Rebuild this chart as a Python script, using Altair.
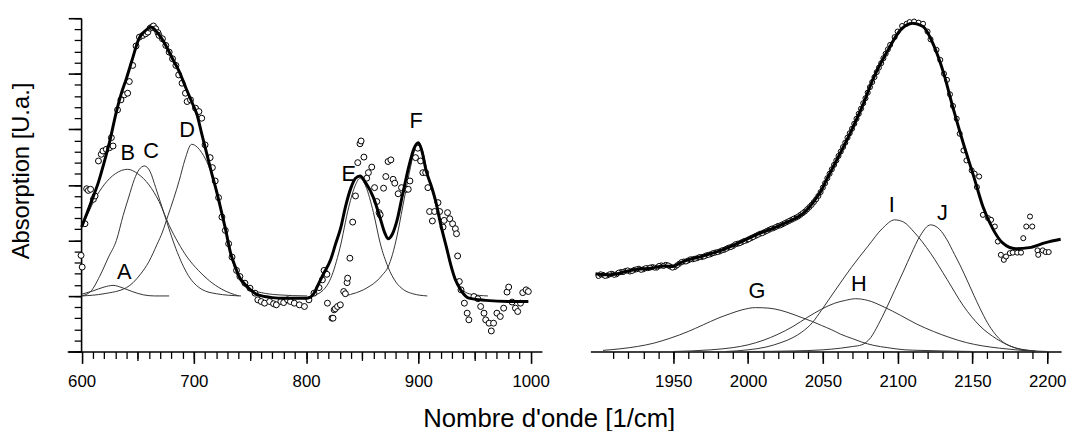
import altair as alt
import pandas as pd

FONT = "Liberation Sans"

# ---------------- Left panel (600-1000 1/cm) ----------------
fit_left_x = [600, 605, 610, 615, 620, 625, 631, 635, 640, 645, 651, 656, 662, 668, 675, 681, 687, 693, 698, 703,
              707, 712, 716, 720, 725, 728, 733, 737, 740, 745, 750, 755, 763, 770, 780, 790, 801, 806, 810, 815,
              822, 826, 831, 835, 840, 844, 848, 853, 860, 866, 870, 873, 877, 881, 886, 892, 896, 900, 903, 907,
              912, 916, 920, 925, 929, 933, 938, 945, 960, 980, 998]
fit_left_y = [1.24, 1.50, 1.77, 2.05, 2.40, 2.78, 3.32, 3.62, 3.92, 4.25, 4.63, 4.76, 4.84, 4.73, 4.51, 4.27, 4.04, 3.74, 3.50, 3.25,
              2.92, 2.52, 2.20, 1.90, 1.48, 1.22, 0.75, 0.52, 0.36, 0.22, 0.12, 0.04, -0.01, -0.03, -0.04, -0.04, -0.04, 0.02, 0.17, 0.38,
              0.66, 0.92, 1.24, 1.60, 1.95, 2.12, 2.16, 2.04, 1.77, 1.40, 1.14, 1.03, 1.12, 1.36, 1.83, 2.37, 2.65, 2.76, 2.62, 2.25,
              1.95, 1.66, 1.28, 0.88, 0.55, 0.29, 0.10, -0.04, -0.08, -0.10, -0.10]

comp_A = [(600, 0.03), (610, 0.09), (620, 0.16), (628, 0.19), (636, 0.15), (645, 0.08), (655, 0.02), (665, 0.0), (678, 0.0)]
comp_B = [(600, 1.25), (606, 1.50), (612, 1.75), (620, 2.00), (630, 2.20), (641, 2.28), (650, 2.20), (660, 2.00),
          (669, 1.70), (678, 1.27), (686, 0.96), (694, 0.70), (704, 0.46), (714, 0.27), (725, 0.12), (740, 0.0)]
comp_C = [(600, 0.0), (608, 0.08), (616, 0.35), (624, 0.70), (631, 1.0), (637, 1.45), (642, 1.78), (647, 2.10), (651, 2.27),
          (656, 2.34), (661, 2.24), (666, 1.95), (674, 1.45), (684, 0.85), (695, 0.37), (707, 0.12), (720, 0.04), (742, 0.0)]
comp_D = [(600, 0.0), (620, 0.04), (640, 0.15), (652, 0.38), (660, 0.62), (667, 0.92), (672, 1.15), (677, 1.45), (682, 1.75),
          (687, 2.08), (692, 2.45), (698, 2.73), (703, 2.68), (707, 2.58), (713, 2.35), (719, 2.00), (724, 1.60), (728, 1.20),
          (732, 0.82), (736, 0.52), (740, 0.32), (745, 0.18), (751, 0.11), (760, 0.06), (775, 0.02), (801, 0.0)]
comp_E = [(805, 0.0), (815, 0.10), (822, 0.32), (830, 0.85), (838, 1.60), (844, 2.00), (848, 2.12), (853, 1.98), (860, 1.50),
          (866, 0.95), (873, 0.52), (880, 0.25), (887, 0.11), (895, 0.04), (908, 0.0)]
comp_F = [(834, 0.0), (845, 0.06), (851, 0.11), (857, 0.18), (863, 0.27), (868, 0.38), (873, 0.52), (877, 0.75), (881, 1.08),
          (886, 1.60), (892, 2.22), (896, 2.58), (900, 2.76), (904, 2.60), (908, 2.22), (913, 1.85), (917, 1.52), (921, 1.18),
          (925, 0.85), (929, 0.55), (934, 0.28), (940, 0.10), (947, 0.03), (962, 0.0)]

pts_left = [(599.5, 0.73), (600.5, 0.52), (603, 1.30), (604.5, 1.93), (606, 1.90), (608, 1.92), (610.5, 1.74), (612, 1.80),
            (615, 2.43), (617.5, 2.55), (619, 2.61), (622, 2.64), (625, 2.67), (626.5, 2.85), (628, 2.70),
            (632, 3.35), (635, 3.53), (638, 3.62), (641, 3.65), (642.5, 3.86), (645.5, 4.15), (648.5, 4.50), (651.5, 4.66),
            (654.5, 4.69), (657, 4.72), (659, 4.75), (661, 4.82), (662.5, 4.84), (664, 4.86), (666, 4.81), (668, 4.74),
            (669, 4.69), (672, 4.63), (675, 4.51), (678, 4.39), (681, 4.27), (684, 4.15), (686.5, 3.98), (689.5, 3.83),
            (692.5, 3.65), (694, 3.50), (697, 3.53), (701.5, 3.38), (704.5, 3.32), (707, 3.20), (710, 2.72), (714.5, 2.49),
            (716.5, 2.31), (719, 2.07), (722, 1.77), (725, 1.42), (728, 1.18), (731, 0.94), (734, 0.70), (738, 0.46),
            (741, 0.35), (745.5, 0.23), (750, 0.14), (754.5, 0.05),
            (757, -0.07), (760, -0.10), (763, -0.13), (767.5, -0.10), (771, -0.14), (773.5, -0.16), (777.5, -0.10),
            (780, -0.12), (783.5, -0.07), (786, -0.10), (789.5, -0.13), (794, -0.16), (798.5, -0.19), (802.5, -0.07),
            (807, 0.05), (811.5, 0.15), (814.5, 0.29), (816, 0.46), (818.5, 0.39),
            (819, -0.13), (823, -0.40), (824, -0.40), (825, -0.25), (826, -0.23), (828, -0.19), (830.5, -0.16),
            (833.5, 0.08), (835, 0.04), (836.5, 0.24), (837, 0.32), (839, 0.68), (841.5, 1.33), (844, 1.80), (846, 2.40),
            (848, 2.74), (849, 2.79), (851.5, 2.50), (854, 2.12), (855.5, 2.22), (858.5, 2.32), (861, 1.95), (863, 1.70),
            (865, 1.50), (866, 1.46), (869, 1.94), (871, 2.15), (873, 2.42), (875.5, 2.45), (877.5, 2.10), (879, 2.03),
            (882, 1.84), (885, 1.95), (889, 1.92), (891, 1.92), (892.5, 2.07), (897.5, 2.49), (899.5, 2.66), (902, 2.43),
            (904, 2.22), (906.5, 2.22), (908.5, 1.95), (910, 1.52), (912.5, 1.35), (914.5, 1.52), (917.5, 1.68),
            (919, 1.52), (922, 1.24), (923, 1.36), (926, 1.50), (928, 1.39), (930.5, 1.30), (933, 1.21), (934, 1.12),
            (935, 0.72), (936.5, 0.26), (938, 0.11), (941, -0.13), (943.5, -0.31), (945, -0.43), (949.5, -0.01),
            (953, -0.05), (955.5, -0.19), (958.5, -0.31), (960, -0.43), (963, -0.49), (965, -0.63), (967, -0.49),
            (970, -0.31), (973, -0.37), (976, -0.22), (979, 0.07), (980.5, 0.16), (983.5, -0.11), (986.5, -0.22),
            (988.5, -0.28), (991, -0.13), (993, 0.06), (996, 0.11), (998, 0.08)]

labels_left = ["A", "B", "C", "D", "E", "F"]
labels_left_x = [638, 641, 662, 694, 838, 898]
labels_left_y = [0.43, 2.58, 2.61, 2.99, 2.19, 3.14]

# ---------------- Right panel (1900-2200 1/cm) ----------------
fit_right_x = [1898, 1905, 1911, 1918, 1926, 1935, 1944, 1950, 1955, 1960, 1970, 1981, 1990, 1995, 2008, 2017, 2026, 2037,
               2045, 2049, 2053, 2058, 2067, 2076, 2084, 2093, 2102, 2110, 2117, 2124, 2131, 2137, 2144, 2151, 2157, 2164,
               2170, 2179, 2188, 2199, 2209]
fit_right_y = [1.40, 1.38, 1.39, 1.44, 1.48, 1.50, 1.54, 1.53, 1.60, 1.65, 1.72, 1.81, 1.91, 1.97, 2.13, 2.22, 2.33, 2.49,
               2.74, 2.90, 3.12, 3.38, 3.86, 4.39, 4.93, 5.40, 5.79, 5.91, 5.85, 5.52, 4.99, 4.39, 3.74, 3.14, 2.61, 2.19,
               1.96, 1.85, 1.87, 1.96, 2.02]

comp_G = [(1903, 0.02), (1915, 0.05), (1926, 0.09), (1937, 0.15), (1948, 0.24), (1960, 0.36), (1970, 0.48), (1980, 0.60),
          (1988, 0.68), (1996, 0.75), (2005, 0.79), (2014, 0.78), (2022, 0.74), (2030, 0.67), (2036, 0.61), (2043, 0.54),
          (2049, 0.47), (2056, 0.39), (2062, 0.31), (2070, 0.23), (2076, 0.17), (2084, 0.11), (2093, 0.07), (2105, 0.03),
          (2115, 0.02), (2130, 0.01), (2150, 0.0)]
comp_H = [(1950, 0.0), (1975, 0.03), (1990, 0.07), (2000, 0.12), (2010, 0.20), (2020, 0.31), (2030, 0.45), (2040, 0.62),
          (2049, 0.76), (2058, 0.87), (2065, 0.92), (2072, 0.95), (2080, 0.92), (2091, 0.80), (2102, 0.65), (2113, 0.49),
          (2124, 0.36), (2135, 0.25), (2146, 0.16), (2157, 0.10), (2168, 0.06), (2179, 0.03), (2192, 0.0)]
comp_I = [(1985, 0.0), (2000, 0.03), (2012, 0.08), (2022, 0.16), (2030, 0.25), (2036, 0.35), (2043, 0.52), (2049, 0.74),
          (2058, 1.09), (2069, 1.51), (2080, 1.89), (2090, 2.22), (2098, 2.37), (2104, 2.33), (2111, 2.15), (2122, 1.77),
          (2133, 1.30), (2144, 0.82), (2155, 0.46), (2166, 0.23), (2177, 0.08), (2188, 0.02), (2200, 0.0)]
comp_J = [(2000, 0.0), (2030, 0.01), (2050, 0.03), (2062, 0.06), (2070, 0.09), (2076, 0.12), (2082, 0.25), (2087, 0.48),
          (2092, 0.75), (2098, 1.10), (2104, 1.45), (2109, 1.75), (2115, 2.08), (2122, 2.28), (2128, 2.20), (2133, 2.01),
          (2138, 1.75), (2142, 1.54), (2147, 1.25), (2151, 1.01), (2155, 0.78), (2160, 0.52), (2165, 0.32), (2170, 0.18),
          (2176, 0.09), (2182, 0.04), (2192, 0.01)]

pts_right = [(1900, 1.36), (1903, 1.38), (1906, 1.37), (1909, 1.40), (1912, 1.39), (1915, 1.43), (1918, 1.45), (1921, 1.44),
             (1924, 1.47), (1927, 1.49), (1930, 1.48), (1933, 1.50), (1936, 1.52), (1939, 1.51), (1942, 1.55), (1945, 1.56),
             (1948, 1.53), (1951, 1.52), (1954, 1.58), (1957, 1.62), (1960, 1.64), (1963, 1.66), (1966, 1.68), (1969, 1.70),
             (1972, 1.73), (1975, 1.75), (1978, 1.78), (1981, 1.80), (1984, 1.83), (1987, 1.87), (1990, 1.90), (1993, 1.94),
             (1996, 1.97), (1999, 2.00), (2002, 2.04), (2005, 2.08), (2008, 2.12), (2011, 2.15), (2014, 2.19), (2017, 2.22),
             (2020, 2.26), (2023, 2.29), (2026, 2.33), (2029, 2.37), (2032, 2.41), (2035, 2.46), (2038, 2.52), (2041, 2.60),
             (2044, 2.69), (2047, 2.80), (2050, 2.95), (2053, 3.12), (2056, 3.28), (2059, 3.44), (2062, 3.60), (2065, 3.76),
             (2068, 3.93), (2071, 4.10), (2074, 4.28), (2077, 4.47), (2080, 4.66), (2083, 4.85), (2086, 5.03), (2089, 5.19),
             (2092, 5.36), (2095, 5.52), (2098, 5.66), (2100, 5.76), (2103, 5.86), (2106, 5.90), (2108, 5.93), (2111, 5.94),
             (2114, 5.92), (2117, 5.90), (2120, 5.76), (2122, 5.62), (2126, 5.43), (2128.5, 5.25), (2131, 5.00), (2133, 4.89),
             (2135, 4.63), (2137, 4.42), (2139.5, 4.19), (2141.5, 3.92), (2144, 3.62), (2146, 3.44), (2149.5, 3.26),
             (2151.5, 3.20), (2153, 2.96), (2154.5, 3.15), (2157, 2.46), (2160.5, 2.40), (2162.5, 2.37), (2165, 2.25),
             (2167, 1.98), (2169, 1.74), (2171, 1.65), (2172.5, 1.71), (2175, 1.77), (2177, 1.78), (2180, 1.78),
             (2182.5, 1.78), (2184, 2.04), (2186, 2.25), (2188.5, 2.43), (2190, 2.25), (2193.5, 1.82), (2194, 1.74),
             (2197, 1.82), (2199, 1.79), (2201, 1.79)]
# the dense band of measured points between 1900 and 2094
pts_right_dense = [(1901.5, 1.39), (1904.5, 1.36), (1907.5, 1.39), (1910.5, 1.38), (1913.5, 1.42), (1916.5, 1.43),
                   (1919.5, 1.46), (1922.5, 1.45), (1925.5, 1.48), (1928.5, 1.47), (1931.5, 1.50), (1934.5, 1.51),
                   (1937.5, 1.51), (1940.5, 1.54), (1943.5, 1.54), (1946.5, 1.55), (1949.5, 1.51), (1952.5, 1.55),
                   (1955.5, 1.61), (1958.5, 1.62), (1961.5, 1.66), (1964.5, 1.67), (1967.5, 1.70), (1970.5, 1.71),
                   (1973.5, 1.74), (1976.5, 1.77), (1979.5, 1.79), (1982.5, 1.82), (1985.5, 1.85), (1988.5, 1.88),
                   (1991.5, 1.93), (1994.5, 1.95), (1997.5, 1.99), (2000.5, 2.02), (2003.5, 2.06), (2006.5, 2.10),
                   (2009.5, 2.13), (2012.5, 2.17), (2015.5, 2.21), (2018.5, 2.24), (2021.5, 2.27), (2024.5, 2.31),
                   (2027.5, 2.35), (2030.5, 2.39), (2033.5, 2.43), (2036.5, 2.49), (2039.5, 2.56), (2042.5, 2.64),
                   (2045.5, 2.74), (2048.5, 2.87), (2051.5, 3.03), (2054.5, 3.20), (2057.5, 3.36), (2060.5, 3.52),
                   (2063.5, 3.68), (2066.5, 3.85), (2069.5, 4.01), (2072.5, 4.19), (2075.5, 4.37), (2078.5, 4.56),
                   (2081.5, 4.76), (2084.5, 4.94), (2087.5, 5.11), (2090.5, 5.28), (2093.5, 5.44)]

labels_right = ["G", "H", "I", "J"]
labels_right_x = [2006, 2074, 2096, 2130]
labels_right_y = [1.09, 1.21, 2.64, 2.49]

# tick positions / labels
x_left_labels = [600, 700, 800, 900, 1000]
x_left_mid = [650, 750, 850, 950]
x_left_minor = list(range(610, 1000, 10))
x_right_labels = [1950, 2000, 2050, 2100, 2150, 2200]
x_right_minor = list(range(1910, 2201, 10))
y_major = [-1, 0, 1, 2, 3, 4, 5]
y_minor = [round(-1 + 0.2 * i, 1) for i in range(31)]


def comps_frame(named):
    rows = []
    for name, pts in named.items():
        for i, (x, y) in enumerate(pts):
            rows.append({"x": x, "y": y, "comp": name, "o": i})
    return pd.DataFrame(rows)


df_fit_left = pd.DataFrame({"x": fit_left_x, "y": fit_left_y})
df_fit_right = pd.DataFrame({"x": fit_right_x, "y": fit_right_y})
df_comp_left = comps_frame({"A": comp_A, "B": comp_B, "C": comp_C, "D": comp_D, "E": comp_E, "F": comp_F})
df_comp_right = comps_frame({"G": comp_G, "H": comp_H, "I": comp_I, "J": comp_J})
df_pts_left = pd.DataFrame(pts_left, columns=["x", "y"])
df_pts_right = pd.DataFrame(pts_right + pts_right_dense, columns=["x", "y"])
df_lab_left = pd.DataFrame({"t": labels_left, "x": labels_left_x, "y": labels_left_y})
df_lab_right = pd.DataFrame({"t": labels_right, "x": labels_right_x, "y": labels_right_y})

xs_left = alt.Scale(domain=[587.2, 1010.1], nice=False, zero=False)
xs_right = alt.Scale(domain=[1894.6, 2209.3], nice=False, zero=False)
ys_left = alt.Scale(domain=[-1, 5], nice=False, zero=False)
ys_right = alt.Scale(domain=[0, 6], nice=False, zero=False)

tick_common = dict(grid=False, title=None, tickColor="black", orient="bottom")


def x_label_axis(values):
    return alt.Axis(values=values, tickSize=12, tickWidth=1.6, labelFontSize=17, labelFont=FONT,
                    labelColor="black", labelPadding=10, format="d", domainColor="black", domainWidth=1.6,
                    labelFlush=False, labelOverlap=False, **tick_common)


def x_tick_axis(values, size):
    return alt.Axis(values=values, tickSize=size, tickWidth=1.3, labels=False, domain=False, **tick_common)


y_axis_major = alt.Axis(values=y_major, tickSize=13, tickWidth=1.6, labels=False, domainColor="black",
                        domainWidth=1.6, tickColor="black", grid=False, offset=-14, orient="left",
                        title="Absorption [U.a.]", titleFont=FONT, titleFontSize=24, titleFontWeight="normal",
                        titleColor="black", titlePadding=34, titleY=154)
y_axis_minor = alt.Axis(values=y_minor, tickSize=7, tickWidth=1.3, labels=False, domain=False, tickColor="black",
                        grid=False, offset=-14, orient="left", title=None)

comp_style = dict(color="#333333", strokeWidth=1, interpolate="monotone")
fit_style = dict(color="black", strokeWidth=3, interpolate="monotone")
pt_left_style = dict(shape="circle", filled=True, fill="white", stroke="black", strokeWidth=1, size=36, opacity=1)
pt_right_style = dict(shape="circle", filled=True, fill="white", stroke="black", strokeWidth=1, size=26, opacity=1)
txt_style = dict(font=FONT, fontSize=22, color="black", baseline="middle", align="center")

left = alt.layer(
    alt.Chart(df_comp_left).mark_line(**comp_style).encode(
        x=alt.X("x:Q", scale=xs_left, axis=x_label_axis(x_left_labels)),
        y=alt.Y("y:Q", scale=ys_left, axis=y_axis_major),
        detail="comp:N", order="o:Q"),
    alt.Chart(df_pts_left).mark_point(**pt_left_style).encode(
        x=alt.X("x:Q", scale=xs_left, axis=x_tick_axis(x_left_minor, 7)),
        y=alt.Y("y:Q", scale=ys_left, axis=None)),
    alt.Chart(df_fit_left).mark_line(**fit_style).encode(
        x=alt.X("x:Q", scale=xs_left, axis=x_tick_axis(x_left_mid, 9)),
        y=alt.Y("y:Q", scale=ys_left, axis=y_axis_minor)),
    alt.Chart(df_lab_left).mark_text(**txt_style).encode(
        x=alt.X("x:Q", scale=xs_left, axis=None),
        y=alt.Y("y:Q", scale=ys_left, axis=None),
        text="t:N"),
).resolve_axis(x="independent", y="independent").properties(width=480, height=337)

right = alt.layer(
    alt.Chart(df_comp_right).mark_line(**comp_style).encode(
        x=alt.X("x:Q", scale=xs_right, axis=x_label_axis(x_right_labels)),
        y=alt.Y("y:Q", scale=ys_right, axis=None),
        detail="comp:N", order="o:Q"),
    alt.Chart(df_pts_right).mark_point(**pt_right_style).encode(
        x=alt.X("x:Q", scale=xs_right, axis=None),
        y=alt.Y("y:Q", scale=ys_right, axis=None)),
    alt.Chart(df_fit_right).mark_line(**fit_style).encode(
        x=alt.X("x:Q", scale=xs_right, axis=x_tick_axis(x_right_minor, 7)),
        y=alt.Y("y:Q", scale=ys_right, axis=None)),
    alt.Chart(df_lab_right).mark_text(**txt_style).encode(
        x=alt.X("x:Q", scale=xs_right, axis=None),
        y=alt.Y("y:Q", scale=ys_right, axis=None),
        text="t:N"),
).resolve_axis(x="independent", y="independent").properties(width=476, height=337)

chart = alt.hconcat(left, right, spacing=40).properties(
    title=alt.TitleParams("Nombre d'onde [1/cm]", orient="bottom", anchor="middle", font=FONT, fontSize=26,
                          fontWeight="normal", color="black", offset=17, dx=11),
    padding={"left": 10, "top": 14, "right": 5, "bottom": 0},
    background="white",
).configure_view(stroke=None)

chart.save("out.html", embed_options={"renderer": "svg", "actions": False})
